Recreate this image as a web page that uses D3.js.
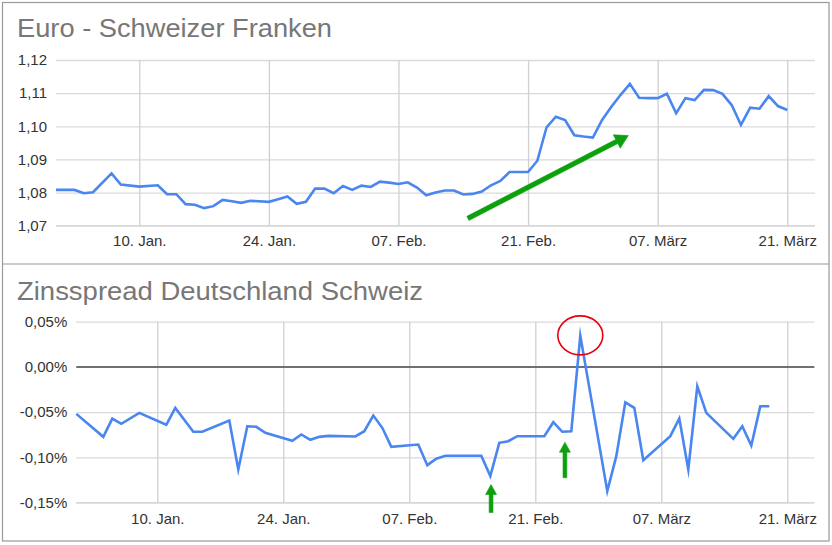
<!DOCTYPE html>
<html>
<head>
<meta charset="utf-8">
<script src="https://cdn.jsdelivr.net/npm/d3@7"></script>
<style>
  html, body { margin: 0; padding: 0; background: #fff; }
  svg { display: block; font-family: "Liberation Sans", Arial, sans-serif; }
</style>
</head>
<body>
<svg id="chart" width="832" height="545"></svg>
<script>
// ---------- DATA ----------
const titles = ["Euro - Schweizer Franken", "Zinsspread Deutschland Schweiz"];

const xTickDates = ["2021-01-10", "2021-01-24", "2021-02-07", "2021-02-21", "2021-03-07", "2021-03-21"];
const xTickLabels = ["10. Jan.", "24. Jan.", "07. Feb.", "21. Feb.", "07. März", "21. März"];

// EUR/CHF (top)
const eurDates = [
  "2021-01-01","2021-01-03","2021-01-04","2021-01-05","2021-01-07","2021-01-08","2021-01-10","2021-01-12",
  "2021-01-13","2021-01-14","2021-01-15","2021-01-16","2021-01-17","2021-01-18","2021-01-19","2021-01-20",
  "2021-01-21","2021-01-22","2021-01-24","2021-01-25","2021-01-26","2021-01-27","2021-01-28","2021-01-29",
  "2021-01-30","2021-01-31","2021-02-01","2021-02-02","2021-02-03","2021-02-04","2021-02-05","2021-02-06",
  "2021-02-07","2021-02-08","2021-02-09","2021-02-10","2021-02-11","2021-02-12","2021-02-13","2021-02-14",
  "2021-02-15","2021-02-16","2021-02-17","2021-02-18","2021-02-19","2021-02-20","2021-02-21","2021-02-22",
  "2021-02-23","2021-02-24","2021-02-25","2021-02-26","2021-02-27","2021-02-28","2021-03-01","2021-03-02",
  "2021-03-03","2021-03-04","2021-03-05","2021-03-06","2021-03-07","2021-03-08","2021-03-09","2021-03-10",
  "2021-03-11","2021-03-12","2021-03-13","2021-03-14","2021-03-15","2021-03-16","2021-03-17","2021-03-18",
  "2021-03-19","2021-03-20","2021-03-21"
];
const eurValues = [
  1.0808,1.0808,1.0798,1.0801,1.0858,1.0824,1.0818,1.0822,
  1.0795,1.0795,1.0765,1.0763,1.0753,1.0759,1.0778,1.0774,
  1.0769,1.0775,1.0772,1.0780,1.0788,1.0766,1.0772,1.0812,
  1.0812,1.0798,1.0820,1.0808,1.0821,1.0817,1.0833,1.0830,
  1.0826,1.0831,1.0815,1.0792,1.0800,1.0806,1.0806,1.0794,
  1.0796,1.0803,1.0822,1.0835,1.0862,1.0862,1.0862,1.0896,
  1.0997,1.1029,1.1019,1.0973,1.0969,1.0966,1.1019,1.1059,
  1.1095,1.1128,1.1086,1.1085,1.1085,1.1098,1.1039,1.1085,
  1.1079,1.1110,1.1109,1.1098,1.1064,1.1004,1.1056,1.1053,
  1.1091,1.1061,1.1049
];
const eurTicks = [1.07, 1.08, 1.09, 1.10, 1.11, 1.12];

// Zinsspread (bottom), in percent
const spreadDates = [
  "2021-01-01","2021-01-04","2021-01-05","2021-01-06","2021-01-08","2021-01-11","2021-01-12","2021-01-14",
  "2021-01-15","2021-01-18","2021-01-19","2021-01-20","2021-01-21","2021-01-22","2021-01-25","2021-01-26",
  "2021-01-27","2021-01-28","2021-01-29","2021-02-01","2021-02-02","2021-02-03","2021-02-04","2021-02-05",
  "2021-02-08","2021-02-09","2021-02-10","2021-02-11","2021-02-15","2021-02-16","2021-02-17","2021-02-18",
  "2021-02-19","2021-02-22","2021-02-23","2021-02-24","2021-02-25","2021-02-26","2021-03-01","2021-03-02",
  "2021-03-03","2021-03-04","2021-03-05","2021-03-08","2021-03-09","2021-03-10","2021-03-11","2021-03-12",
  "2021-03-15","2021-03-16","2021-03-17","2021-03-18","2021-03-19"
];
const spreadValues = [
  -0.0519,-0.0773,-0.0571,-0.0629,-0.0508,-0.0640,-0.0453,-0.0717,
  -0.0717,-0.0593,-0.1134,-0.0656,-0.0662,-0.0728,-0.0817,-0.0747,
  -0.0806,-0.0773,-0.0762,-0.0769,-0.0711,-0.0538,-0.0673,-0.0883,
  -0.0858,-0.1086,-0.1015,-0.0982,-0.0982,-0.1207,-0.0839,-0.0821,
  -0.0766,-0.0766,-0.0611,-0.0717,-0.0711,0.0345,-0.1373,-0.0987,
  -0.0391,-0.0453,-0.1031,-0.0766,-0.0571,-0.1134,-0.0214,-0.0508,
  -0.0795,-0.0656,-0.0869,-0.0435,-0.0435
];
const spreadTicks = [-0.15, -0.10, -0.05, 0.00, 0.05];

// annotations (data coordinates)
const topArrow = { from: ["2021-02-14T12:00", 1.0722], to: ["2021-03-03T20:00", 1.0972] };
const bottomArrows = [
  { date: "2021-02-16T02:00", from: -0.161, to: -0.130 },
  { date: "2021-02-24T07:00", from: -0.1225, to: -0.0832 }
];
const circleMark = { date: "2021-02-26", value: 0.0349 };

// ---------- DRAW ----------
const parse = s => new Date(s.length > 10 ? s : s + "T00:00");
const svg = d3.select("#chart");
const green = "#0ca10c";
const blue = "#4a86f0";

// frame
svg.append("rect").attr("x", 2.5).attr("y", 2.5).attr("width", 826.5).attr("height", 538.5)
  .attr("fill", "none").attr("stroke", "#9a9a9a").attr("stroke-width", 1.2);
svg.append("line").attr("x1", 2.5).attr("x2", 829).attr("y1", 264).attr("y2", 264)
  .attr("stroke", "#9a9a9a").attr("stroke-width", 1.2);

function panel(opt) {
  const g = svg.append("g");
  const x = d3.scaleTime().domain([parse("2021-01-01"), parse("2021-03-24")]).range(opt.xRange);
  const y = d3.scaleLinear().domain(opt.yDomain).range(opt.yRange);

  g.append("text").attr("x", 17).attr("y", opt.titleY).text(opt.title)
    .attr("font-size", 25.5).attr("fill", "#777")
    .attr("textLength", opt.titleLen).attr("lengthAdjust", "spacingAndGlyphs");

  // horizontal gridlines + y labels
  const yAxis = d3.axisLeft(y).tickValues(opt.yTicks).tickFormat(opt.yFormat)
    .tickSize(-(opt.xRange[1] - opt.xRange[0])).tickPadding(opt.yPad);
  const ya = g.append("g").attr("transform", `translate(${opt.xRange[0]},0)`).call(yAxis);
  ya.select(".domain").remove();
  ya.selectAll(".tick line").attr("stroke", "#dadada").attr("stroke-width", 1.3);
  ya.selectAll(".tick text").attr("font-size", 15).attr("fill", "#333")
    .attr("font-family", "Liberation Sans, Arial, sans-serif");

  // vertical gridlines + x labels
  const xAxis = d3.axisBottom(x).tickValues(xTickDates.map(parse))
    .tickFormat((d, i) => xTickLabels[i])
    .tickSize(-(opt.yRange[0] - opt.yRange[1])).tickPadding(opt.xPad);
  const xa = g.append("g").attr("transform", `translate(0,${opt.yRange[0]})`).call(xAxis);
  xa.select(".domain").remove();
  xa.selectAll(".tick line").attr("stroke", "#d0d0d0").attr("stroke-width", 1.3);
  xa.selectAll(".tick text").attr("font-size", 15).attr("fill", "#333")
    .attr("font-family", "Liberation Sans, Arial, sans-serif");

  g.append("line").attr("x1", opt.xRange[0]).attr("x2", opt.xRange[1])
    .attr("y1", opt.yRange[0]).attr("y2", opt.yRange[0])
    .attr("stroke", "#d6d6d6").attr("stroke-width", 1.3);

  if (opt.zeroLine) {
    g.append("line").attr("x1", opt.xRange[0]).attr("x2", opt.xRange[1])
      .attr("y1", y(0)).attr("y2", y(0)).attr("stroke", "#707070").attr("stroke-width", 2);
  }

  const pts = opt.dates.map((d, i) => [parse(d), opt.values[i]]);
  g.append("path").datum(pts)
    .attr("d", d3.line().x(d => x(d[0])).y(d => y(d[1])))
    .attr("fill", "none").attr("stroke", blue).attr("stroke-width", 2.6)
    .attr("stroke-linejoin", "miter").attr("stroke-miterlimit", 10);

  return { g, x, y };
}

function arrow(g, x1, y1, x2, y2, w, headLen, headHalf, color) {
  const dx = x2 - x1, dy = y2 - y1, L = Math.hypot(dx, dy);
  const ux = dx / L, uy = dy / L, nx = -uy, ny = ux;
  const bx = x2 - ux * headLen, by = y2 - uy * headLen;
  const h = w / 2;
  const p = [
    [x1 + nx * h, y1 + ny * h], [bx + nx * h, by + ny * h], [bx + nx * headHalf, by + ny * headHalf],
    [x2, y2], [bx - nx * headHalf, by - ny * headHalf], [bx - nx * h, by - ny * h], [x1 - nx * h, y1 - ny * h]
  ];
  g.append("path").attr("d", "M" + p.map(q => q.join(",")).join("L") + "Z")
    .attr("fill", color).attr("stroke", color).attr("stroke-width", 0.6).attr("stroke-linejoin", "round");
}

const fmtComma = (v, digits) => v.toFixed(digits).replace(".", ",");

const topPanel = panel({
  title: titles[0], titleY: 37, titleLen: 315,
  xRange: [56, 815], yRange: [225.7, 60], yDomain: [1.07, 1.12],
  yTicks: eurTicks, yFormat: d => fmtComma(d, 2), yPad: 9, xPad: 10,
  dates: eurDates, values: eurValues, zeroLine: false
});

const botPanel = panel({
  title: titles[1], titleY: 299.5, titleLen: 406,
  xRange: [76.3, 814.3], yRange: [502.6, 321.7], yDomain: [-0.15, 0.05],
  yTicks: spreadTicks, yFormat: d => fmtComma(d, 2) + "%", yPad: 9, xPad: 11,
  dates: spreadDates, values: spreadValues, zeroLine: true
});

arrow(topPanel.g,
  topPanel.x(parse(topArrow.from[0])), topPanel.y(topArrow.from[1]),
  topPanel.x(parse(topArrow.to[0])), topPanel.y(topArrow.to[1]),
  4.6, 13, 7.5, green);

bottomArrows.forEach(a => {
  const xx = botPanel.x(parse(a.date));
  arrow(botPanel.g, xx, botPanel.y(a.from), xx, botPanel.y(a.to), 3.8, 10, 5.5, green);
});

botPanel.g.append("ellipse")
  .attr("cx", botPanel.x(parse(circleMark.date))).attr("cy", botPanel.y(circleMark.value))
  .attr("rx", 22.5).attr("ry", 19.5)
  .attr("fill", "none").attr("stroke", "#e8000b").attr("stroke-width", 1.6);
</script>
</body>
</html>
